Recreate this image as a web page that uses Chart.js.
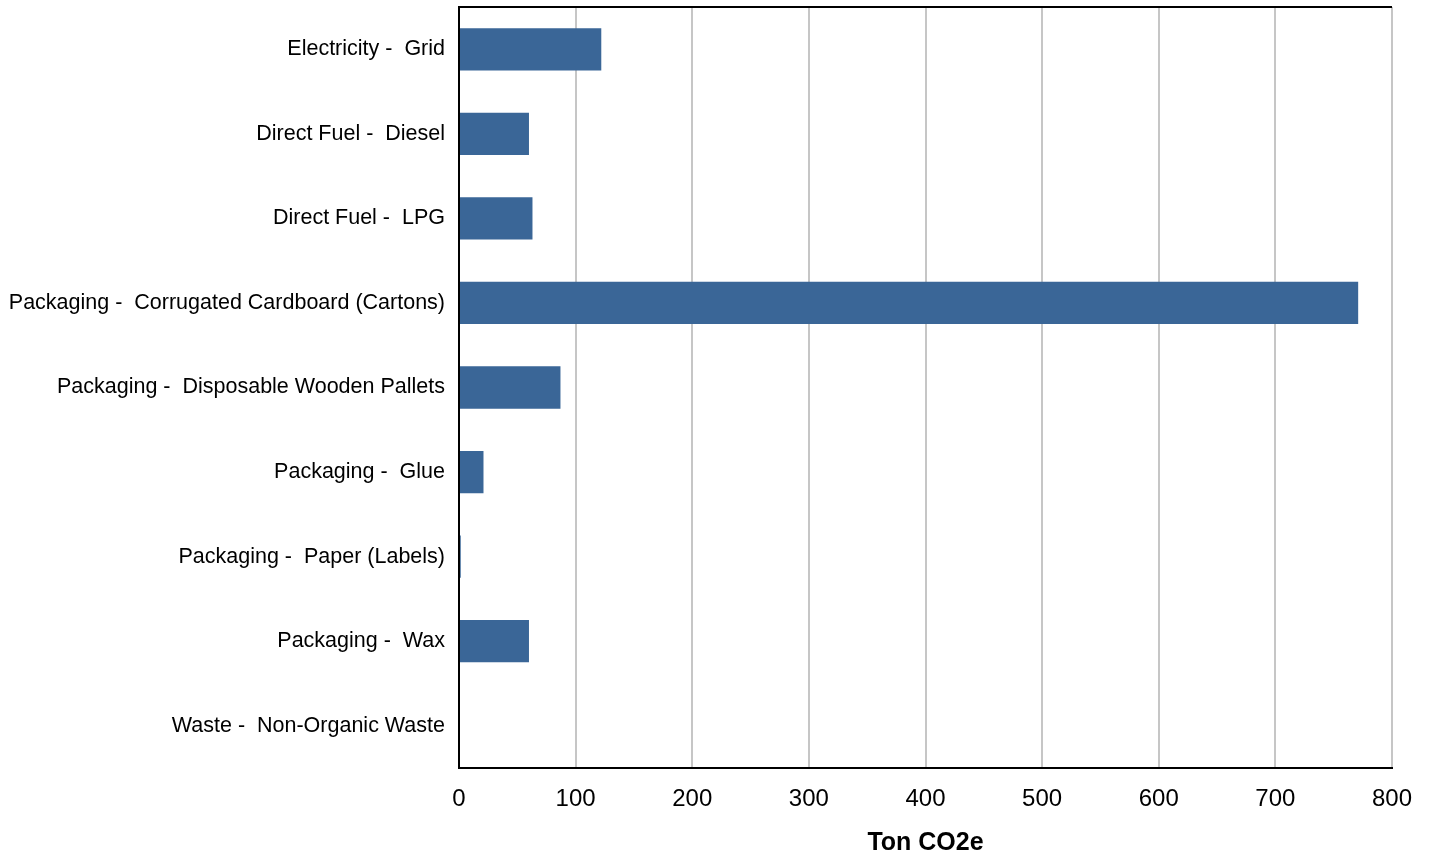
<!DOCTYPE html>
<html>
<head>
<meta charset="utf-8">
<script src="https://cdn.jsdelivr.net/npm/chart.js@4/dist/chart.umd.min.js"></script>
<style>
    html, body { margin: 0; padding: 0; background: #fff; }
    #wrap { width: 1432px; height: 858px; }
</style>
</head>
<body>
<div id="wrap"><canvas id="emissions"></canvas></div>
<script>
const categories = [
    'Electricity -  Grid',
    'Direct Fuel -  Diesel',
    'Direct Fuel -  LPG',
    'Packaging -  Corrugated Cardboard (Cartons)',
    'Packaging -  Disposable Wooden Pallets',
    'Packaging -  Glue',
    'Packaging -  Paper (Labels)',
    'Packaging -  Wax',
    'Waste -  Non-Organic Waste'
];
const tonCO2e = [122, 60, 63, 771, 87, 21, 1.5, 60, 0];
const xTicks = [0, 100, 200, 300, 400, 500, 600, 700, 800];

// top edge of the plot frame (left/bottom come from the axis borders)
const frameTop = {
    id: 'frameTop',
    afterDatasetsDraw(chart) {
        const { ctx, chartArea } = chart;
        ctx.save();
        ctx.strokeStyle = '#000';
        ctx.lineWidth = 2;
        ctx.beginPath();
        ctx.moveTo(chartArea.left - 1, chartArea.top);
        ctx.lineTo(chartArea.right, chartArea.top);
        ctx.stroke();
        ctx.restore();
    }
};

const ctx = document.getElementById('emissions').getContext('2d');
const emissionsChart = new Chart(ctx, {
    type: 'bar',
    data: {
        labels: categories,
        datasets: [{
            label: 'Ton CO2e',
            data: tonCO2e,
            backgroundColor: '#3a6697',
            borderWidth: 0,
            categoryPercentage: 1,
            barPercentage: 0.5
        }]
    },
    options: {
        indexAxis: 'y',
        responsive: true,
        maintainAspectRatio: false,
        animation: false,
        layout: { padding: { top: 7, right: 40, left: 0, bottom: 0 } },
        plugins: {
            legend: { display: false },
            tooltip: { enabled: false }
        },
        scales: {
            x: {
                min: 0,
                max: 800,
                afterBuildTicks(scale) {
                    scale.ticks = xTicks.map(v => ({ value: v }));
                },
                afterFit(scale) { scale.height = 90; },
                grid: { color: '#c6c6c6', lineWidth: 2, drawTicks: false },
                border: { display: true, color: '#000', width: 2 },
                ticks: {
                    color: '#000',
                    padding: 17,
                    maxRotation: 0,
                    font: { family: 'Liberation Sans, Arial, sans-serif', size: 24 }
                },
                title: {
                    display: true,
                    text: 'Ton CO2e',
                    color: '#000',
                    padding: { top: 4, bottom: 0 },
                    font: { family: 'Liberation Sans, Arial, sans-serif', size: 25, weight: 'bold' }
                }
            },
            y: {
                afterFit(scale) {
                    scale.width = 459;
                    scale.paddingTop = 0;
                    scale.paddingBottom = 0;
                },
                grid: { display: false, drawTicks: false },
                border: { display: true, color: '#000', width: 2 },
                ticks: {
                    color: '#000',
                    padding: 14,
                    autoSkip: false,
                    font: { family: 'Liberation Sans, Arial, sans-serif', size: 21.5 }
                }
            }
        }
    },
    plugins: [frameTop]
});
</script>
</body>
</html>
